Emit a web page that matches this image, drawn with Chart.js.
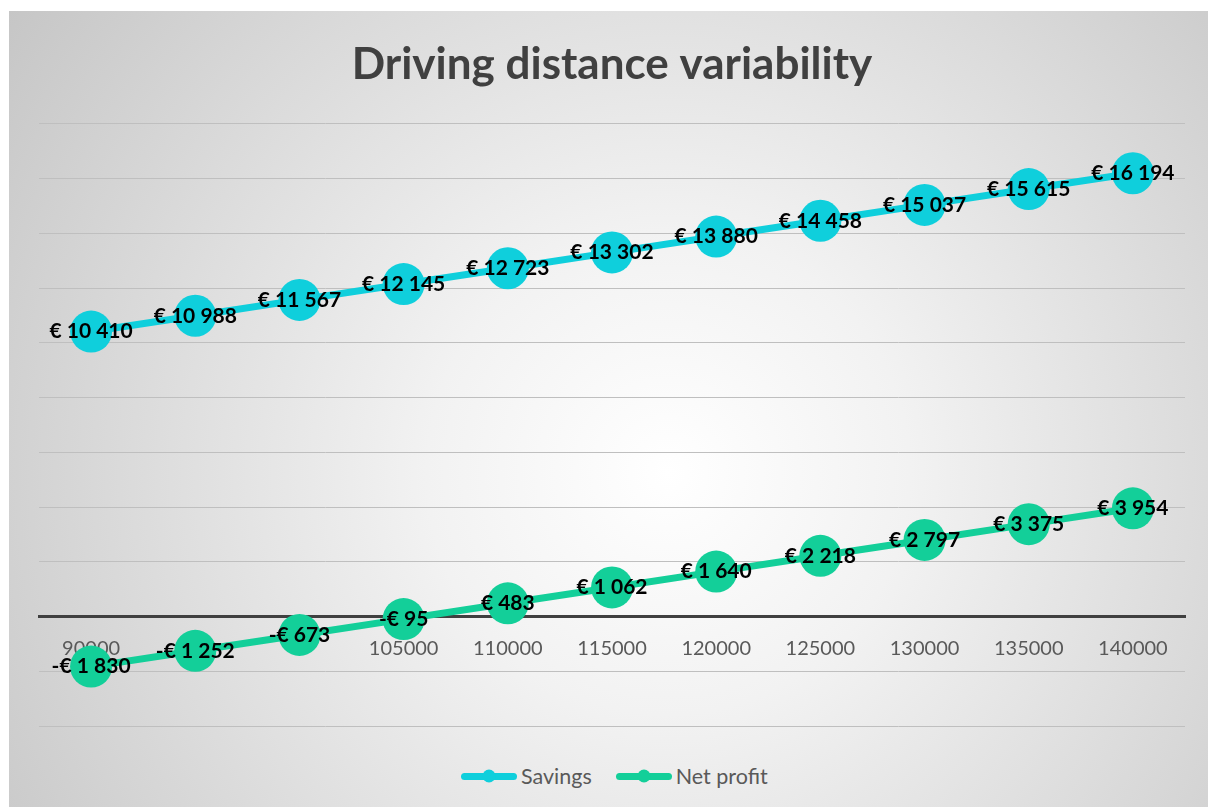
<!DOCTYPE html>
<html>
<head>
<meta charset="utf-8">
<title>Driving distance variability</title>
<script src="https://cdn.jsdelivr.net/npm/chart.js@4.4.1/dist/chart.umd.min.js"></script>
<style>
  html, body { margin: 0; padding: 0; background: #ffffff; }
  body { width: 1208px; height: 807px; position: relative; overflow: hidden; }
  #panel {
    position: absolute; left: 9px; top: 11px; width: 1199px; height: 796px;
    background: radial-gradient(circle farthest-corner at 55% 58%, #ffffff 0%, #f2f2f2 30%, #c6c6c6 100%);
  }
  #plot { position: absolute; left: 0; top: 0; width: 1199px; height: 736px; }
  #legend {
    position: absolute; left: 452px; top: 752px; height: 26px;
    display: flex; align-items: center; gap: 24px;
    font-family: Lato, "Open Sans", sans-serif; font-size: 21.5px; color: #595959;
  }
  #legend .item { display: flex; align-items: center; }
  #legend .swatch {
    position: relative; width: 56px; height: 7px; border-radius: 4px; margin-right: 4px;
  }
  #legend .swatch::after {
    content: ""; position: absolute; left: 50%; top: 50%; width: 13px; height: 13px;
    border-radius: 50%; transform: translate(-50%, -50%); background: inherit;
  }
</style>
</head>
<body>
<div id="panel">
  <div id="plot"><canvas id="chart"></canvas></div>
  <div id="legend"></div>
</div>
<script>
// Annual driving distance (km) on the category axis
const distances = ['90000', '95000', '100000', '105000', '110000', '115000',
                   '120000', '125000', '130000', '135000', '140000'];

// Yearly amounts in euro
const savings   = [10410, 10988, 11567, 12145, 12723, 13302, 13880, 14458, 15037, 15615, 16194];
const netProfit = [-1830, -1252, -673, -95, 483, 1062, 1640, 2218, 2797, 3375, 3954];

const seriesNames  = ['Savings', 'Net profit'];
const seriesColors = ['#0fcfdc', '#13cf99'];

// "€ 12 345" / "-€ 1 830" style amounts
function euro(v) {
  const abs = Math.abs(Math.round(v)).toString().replace(/\B(?=(\d{3})+(?!\d))/g, ' ');
  return (v < 0 ? '-' : '') + '€ ' + abs;
}

// Value labels centred on every marker
const valueLabels = {
  id: 'valueLabels',
  afterDatasetsDraw(chart) {
    const ctx = chart.ctx;
    ctx.save();
    ctx.font = 'bold 21px Lato, "Open Sans", sans-serif';
    ctx.fillStyle = '#000000';
    ctx.textAlign = 'center';
    ctx.textBaseline = 'middle';
    chart.data.datasets.forEach((ds, i) => {
      chart.getDatasetMeta(i).data.forEach((pt, j) => {
        ctx.fillText(euro(ds.data[j]), pt.x, pt.y);
      });
    });
    ctx.restore();
  }
};

const TICK_PAD = 20;
// Category labels sitting right under a net-profit marker are left out
function tickColor(ctx) {
  const ch = ctx.chart;
  const y = ch.scales.y;
  if (!y) return '#595959';
  const labelY = y.getPixelForValue(0) + TICK_PAD + 11;
  const markY = y.getPixelForValue(netProfit[ctx.index]);
  return Math.abs(markY - labelY) < 16 ? 'rgba(0,0,0,0)' : '#595959';
}

const chart = new Chart(document.getElementById('chart'), {
  type: 'line',
  data: {
    labels: distances,
    datasets: [
      { label: seriesNames[0], data: savings },
      { label: seriesNames[1], data: netProfit }
    ].map((ds, i) => Object.assign(ds, {
      borderColor: seriesColors[i],
      backgroundColor: seriesColors[i],
      pointBackgroundColor: seriesColors[i],
      pointBorderWidth: 0,
      borderWidth: 7,
      pointRadius: 21,
      pointHoverRadius: 21,
      tension: 0,
      fill: false
    }))
  },
  options: {
    responsive: true,
    maintainAspectRatio: false,
    animation: false,
    events: [],
    layout: { padding: { left: 30, right: 23, top: 0, bottom: 6 } },
    plugins: {
      legend: { display: false },
      tooltip: { enabled: false },
      title: {
        display: true,
        text: 'Driving distance variability',
        color: '#404040',
        font: { family: 'Lato, "Open Sans", sans-serif', size: 44, weight: 'bold', lineHeight: 1.2 },
        padding: { top: 27, bottom: 33 }
      }
    },
    scales: {
      x: {
        type: 'category',
        position: { y: 0 },
        offset: true,
        grid: { display: false, drawTicks: false },
        border: { display: true, color: '#404040', width: 3 },
        ticks: {
          color: tickColor,
          font: { family: 'Lato, "Open Sans", sans-serif', size: 20 },
          padding: TICK_PAD,
          autoSkip: false,
          maxRotation: 0
        }
      },
      y: {
        min: -4000,
        max: 18000,
        grid: {
          drawTicks: false,
          lineWidth: 1,
          color: (c) => (c.tick && c.tick.value === 0) ? 'rgba(0,0,0,0)' : '#bfbfbf'
        },
        border: { display: false },
        ticks: { display: false, stepSize: 2000 }
      }
    }
  },
  plugins: [valueLabels]
});

// Legend: line sample with marker, then series name
const legend = document.getElementById('legend');
chart.data.datasets.forEach((ds) => {
  const item = document.createElement('span');
  item.className = 'item';
  const sw = document.createElement('span');
  sw.className = 'swatch';
  sw.style.background = ds.borderColor;
  item.appendChild(sw);
  item.appendChild(document.createTextNode(ds.label));
  legend.appendChild(item);
});
</script>
</body>
</html>
